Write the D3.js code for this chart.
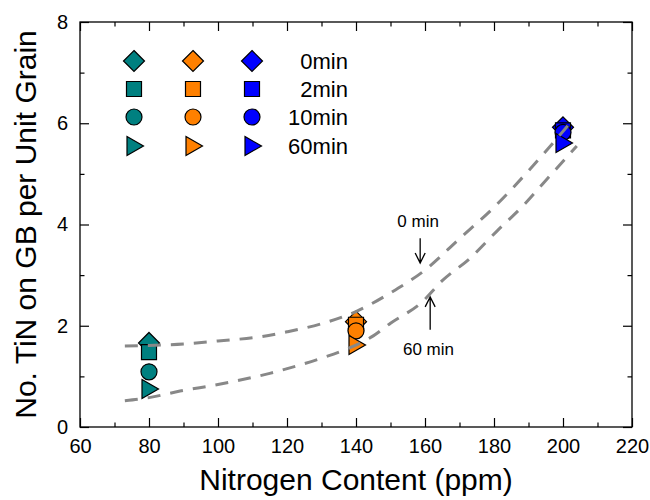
<!DOCTYPE html>
<html lang="en">
<head>
  <meta charset="UTF-8">
  <script src="https://d3js.org/d3.v7.min.js"></script>
  <style>
    body { margin: 0; background: #fff; }
    svg text { font-family: "Liberation Sans", Arial, sans-serif; fill: #000; }
  </style>
</head>
<body>
  <svg width="650" height="500"></svg>
  <script>
    // data
    var nitrogen = [80, 140, 200];
    var groupColors = ["#008080", "#ff8000", "#0000ff"];
    var times = ["0min", "2min", "10min", "60min"];
    var shapes = ["diamond", "square", "circle", "triangle"];
    var tin0 = [1.66, 2.08, 5.92];
    var tin2 = [1.48, 2.02, 5.86];
    var tin10 = [1.09, 1.90, 5.82];
    var tin60 = [0.75, 1.62, 5.61];
    var series = [tin0, tin2, tin10, tin60];

    // dashed guide curves
    var fit0X = [73, 80, 90, 100, 112, 120, 130, 140, 150, 160, 170, 180, 190, 202];
    var fit0Y = [1.60, 1.61, 1.64, 1.70, 1.78, 1.88, 2.04, 2.28, 2.65, 3.10, 3.72, 4.34, 5.06, 6.00];
    var fit60X = [73, 80, 89, 100, 115, 124, 130, 138, 145, 150, 159, 165, 173, 181, 188, 195, 204];
    var fit60Y = [0.52, 0.58, 0.71, 0.84, 1.06, 1.23, 1.36, 1.56, 1.80, 2.05, 2.46, 2.89, 3.33, 3.88, 4.34, 4.87, 5.55];

    var xTicks = [60, 80, 100, 120, 140, 160, 180, 200, 220];
    var xMinor = [70, 90, 110, 130, 150, 170, 190, 210];
    var yTicks = [0, 2, 4, 6, 8];
    var yMinor = [1, 3, 5, 7];

    var svg = d3.select("svg");
    var pLeft = 80, pRight = 632, pTop = 22, pBottom = 427;

    var x = d3.scaleLinear().domain([60, 220]).range([pLeft, pRight]);
    var y = d3.scaleLinear().domain([0, 8]).range([pBottom, pTop]);

    // axes, ticks pointing inward on all four sides
    function styleAxis(g) {
      g.select(".domain").remove();
      g.selectAll("line").attr("stroke", "#000").attr("stroke-width", 1.2);
      g.selectAll("text").attr("font-size", 20);
    }
    svg.append("g").attr("transform", "translate(0," + pBottom + ")")
      .call(d3.axisBottom(x).tickValues(xTicks).tickSize(-9).tickPadding(12).tickFormat(d3.format("d")))
      .call(styleAxis);
    svg.append("g").attr("transform", "translate(0," + pBottom + ")")
      .call(d3.axisBottom(x).tickValues(xMinor).tickSize(-4.5).tickFormat(""))
      .call(styleAxis);
    svg.append("g").attr("transform", "translate(0," + pTop + ")")
      .call(d3.axisTop(x).tickValues(xTicks).tickSize(-9).tickFormat(""))
      .call(styleAxis);
    svg.append("g").attr("transform", "translate(0," + pTop + ")")
      .call(d3.axisTop(x).tickValues(xMinor).tickSize(-4.5).tickFormat(""))
      .call(styleAxis);
    svg.append("g").attr("transform", "translate(" + pLeft + ",0)")
      .call(d3.axisLeft(y).tickValues(yTicks).tickSize(-9).tickPadding(12).tickFormat(d3.format("d")))
      .call(styleAxis);
    svg.append("g").attr("transform", "translate(" + pLeft + ",0)")
      .call(d3.axisLeft(y).tickValues(yMinor).tickSize(-4.5).tickFormat(""))
      .call(styleAxis);
    svg.append("g").attr("transform", "translate(" + pRight + ",0)")
      .call(d3.axisRight(y).tickValues(yTicks).tickSize(-9).tickFormat(""))
      .call(styleAxis);
    svg.append("g").attr("transform", "translate(" + pRight + ",0)")
      .call(d3.axisRight(y).tickValues(yMinor).tickSize(-4.5).tickFormat(""))
      .call(styleAxis);

    svg.append("rect")
      .attr("x", pLeft).attr("y", pTop)
      .attr("width", pRight - pLeft).attr("height", pBottom - pTop)
      .attr("fill", "none").attr("stroke", "#000").attr("stroke-width", 1.3);

    // marker shapes
    function shapePath(s) {
      if (s === "diamond") return "M0,-10.5L10.5,0L0,10.5L-10.5,0Z";
      if (s === "square") return "M-7.5,-7.5H7.5V7.5H-7.5Z";
      if (s === "circle") return "M8,0A8,8 0 1,1 -8,0A8,8 0 1,1 8,0Z";
      return "M-7,-9.5L9.5,0L-7,9.5Z";
    }

    // data markers
    var pts = [];
    series.forEach(function(vals, si) {
      vals.forEach(function(v, gi) {
        pts.push({ n: nitrogen[gi], v: v, shape: shapes[si], color: groupColors[gi] });
      });
    });
    svg.append("g").selectAll("path")
      .data(pts)
      .enter()
      .append("path")
      .attr("transform", function(d) { return "translate(" + x(d.n) + "," + y(d.v) + ")"; })
      .attr("d", function(d) { return shapePath(d.shape); })
      .attr("fill", function(d) { return d.color; })
      .attr("stroke", "#000")
      .attr("stroke-width", 1.2);

    // dashed curves
    var line = d3.line()
      .x(function(d) { return x(d[0]); })
      .y(function(d) { return y(d[1]); })
      .curve(d3.curveMonotoneX);
    [[fit0X, fit0Y], [fit60X, fit60Y]].forEach(function(c) {
      svg.append("path")
        .datum(d3.zip(c[0], c[1]))
        .attr("d", line)
        .attr("fill", "none")
        .attr("stroke", "#888")
        .attr("stroke-width", 3)
        .attr("stroke-dasharray", "13,10");
    });

    // arrows and labels for the curves
    function arrow(xv, y1, y2) {
      var px = x(xv), a = y(y1), b = y(y2);
      var dir = b > a ? 1 : -1;
      svg.append("path")
        .attr("d", "M" + px + "," + a + "V" + b +
          "M" + (px - 5) + "," + (b - dir * 10) + "L" + px + "," + b + "L" + (px + 5) + "," + (b - dir * 10))
        .attr("fill", "none").attr("stroke", "#000").attr("stroke-width", 1.3);
    }
    arrow(158.6, 3.73, 3.24);
    arrow(161.5, 1.92, 2.57);
    svg.append("text").attr("x", x(158)).attr("y", y(3.95))
      .attr("text-anchor", "middle").attr("font-size", 17).text("0 min");
    svg.append("text").attr("x", x(161)).attr("y", y(1.42))
      .attr("text-anchor", "middle").attr("font-size", 17).text("60 min");

    // legend
    var legCols = [134, 193, 252];
    var legRows = [61, 89, 117, 146];
    var leg = svg.append("g");
    times.forEach(function(t, ri) {
      groupColors.forEach(function(c, ci) {
        leg.append("path")
          .attr("transform", "translate(" + legCols[ci] + "," + legRows[ri] + ")")
          .attr("d", shapePath(shapes[ri]))
          .attr("fill", c).attr("stroke", "#000").attr("stroke-width", 1.2);
      });
      leg.append("text")
        .attr("x", 348).attr("y", legRows[ri]).attr("dy", "0.36em")
        .attr("text-anchor", "end").attr("font-size", 22).text(t);
    });

    // axis titles
    svg.append("text")
      .attr("x", (pLeft + pRight) / 2).attr("y", 490)
      .attr("text-anchor", "middle").attr("font-size", 30)
      .text("Nitrogen Content (ppm)");
    svg.append("text")
      .attr("transform", "translate(36," + (pTop + pBottom) / 2 + ") rotate(-90)")
      .attr("text-anchor", "middle").attr("font-size", 30)
      .text("No. TiN on GB per Unit Grain");
  </script>
</body>
</html>
